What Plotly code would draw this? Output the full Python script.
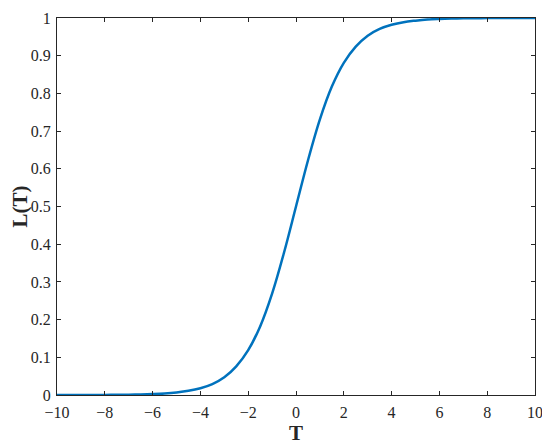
import plotly.graph_objects as go

# values
t_values = [-10, -9.5, -9, -8.5, -8, -7.5, -7, -6.5, -6, -5.5, -5, -4.5, -4,
            -3.5, -3, -2.5, -2, -1.5, -1, -0.5, 0, 0.5, 1, 1.5, 2, 2.5, 3,
            3.5, 4, 4.5, 5, 5.5, 6, 6.5, 7, 7.5, 8, 8.5, 9, 9.5, 10]
l_values = [0.0000, 0.0001, 0.0001, 0.0002, 0.0003, 0.0006, 0.0009, 0.0015,
            0.0025, 0.004, 0.0067, 0.011, 0.018, 0.029, 0.047, 0.076, 0.119,
            0.182, 0.269, 0.378, 0.5, 0.622, 0.731, 0.818, 0.881, 0.924,
            0.953, 0.971, 0.982, 0.989, 0.993, 0.996, 0.9975, 0.9985, 0.9991,
            0.9994, 0.9997, 0.9998, 0.9999, 0.9999, 1.0]

x_ticks = [-10, -8, -6, -4, -2, 0, 2, 4, 6, 8, 10]
y_ticks = [0, 0.1, 0.2, 0.3, 0.4, 0.5, 0.6, 0.7, 0.8, 0.9, 1]

serif = "Liberation Serif, DejaVu Serif, serif"

fig = go.Figure()

fig.add_trace(
    go.Scatter(
        x=t_values,
        y=l_values,
        mode="lines",
        line=dict(color="#0072BD", width=2.5, shape="spline"),
        showlegend=False
    )
)

axis_style = dict(
    showgrid=False,
    zeroline=False,
    showline=True,
    linecolor="#262626",
    linewidth=1,
    mirror="ticks",
    ticks="inside",
    ticklen=4,
    tickcolor="#262626",
    automargin=False,
    tickfont=dict(family=serif, size=16, color="#262626")
)

fig.update_xaxes(
    range=[-10, 10],
    tickvals=x_ticks,
    ticklabelstandoff=3,
    title=dict(text="<b>T</b>", font=dict(family=serif, size=21, color="#262626"), standoff=3),
    **axis_style
)

fig.update_yaxes(
    range=[0, 1],
    tickvals=y_ticks,
    ticktext=[f"{v:g}" for v in y_ticks],
    ticklabelstandoff=2,
    title=dict(text="<b>L(T)</b>", font=dict(family=serif, size=21, color="#262626"), standoff=10),
    **axis_style
)

# page body adds an 8px margin, so the figure is sized to fit inside it
fig.update_layout(
    template="plotly_white",
    width=542,
    height=439,
    margin=dict(l=49, r=15, t=10, b=52),
    plot_bgcolor="white",
    paper_bgcolor="white"
)

fig.write_html("out.html")
